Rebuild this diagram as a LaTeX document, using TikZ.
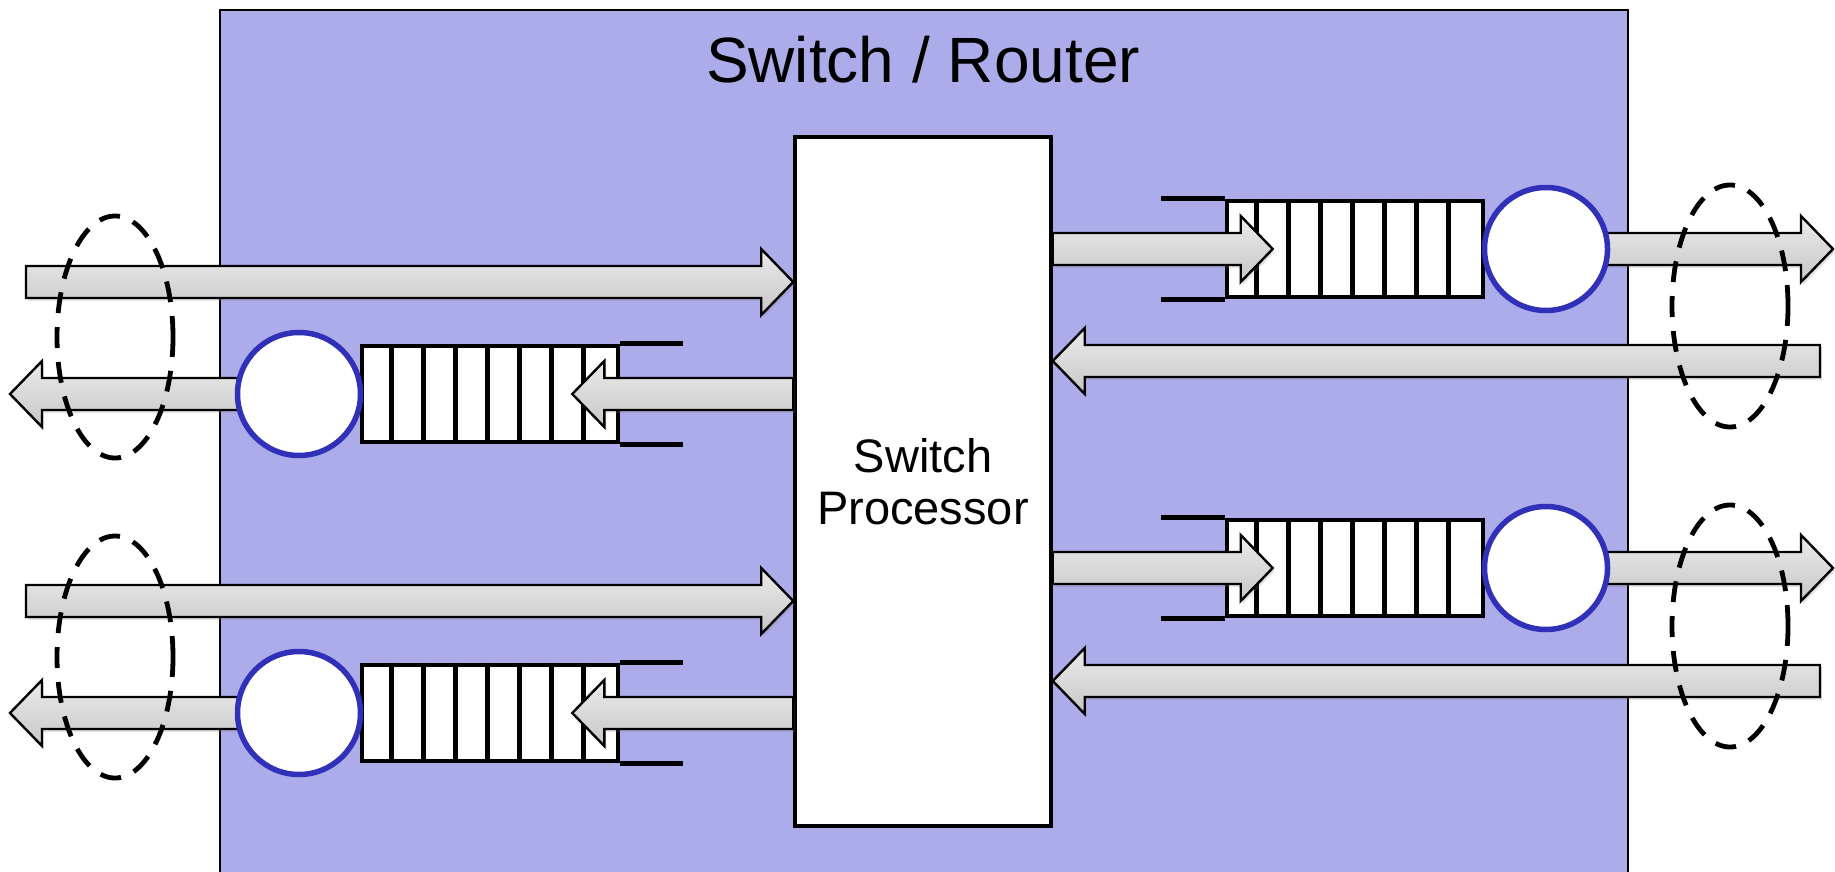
\documentclass[tikz,border=0pt]{standalone}
\usepackage{fontspec}
\setmainfont{Liberation Sans}
\usetikzlibrary{calc,shadows,shapes.geometric}
\definecolor{routerbg}{RGB}{172,172,235}
\definecolor{srvblue}{RGB}{48,48,184}
\tikzset{
  routerbox/.style={draw=black, line width=2pt, fill=routerbg, inner sep=0pt},
  procbox/.style={draw=black, line width=3.5pt, fill=white, inner sep=0pt,
    minimum width=256pt, minimum height=689pt, align=center,
    font=\fontsize{47}{52}\selectfont},
  server/.style={circle, draw=srvblue, line width=5.5pt, fill=white,
    minimum size=123pt, inner sep=0pt},
  queuebox/.style={draw=black, line width=4.6pt, fill=white,
    minimum width=256pt, minimum height=96pt, inner sep=0pt},
  qline/.style={draw=black, line width=4.6pt},
  barrow/.style={draw=black, line width=2.4pt, line join=miter,
    top color=black!8, bottom color=black!22,
    drop shadow={opacity=0.22, shadow xshift=2pt, shadow yshift=-3pt}},
  portring/.style={ellipse, draw=black, line width=4.8pt,
    dash pattern=on 21pt off 14pt, minimum width=116pt,
    minimum height=242pt, inner sep=0pt},
}
% block arrow from #1 to tip #2 (horizontal)
\newcommand{\blockarrow}[2]{%
  \path[barrow] let \p1=(#1), \p2=(#2), \p3=($(#2)!32pt!(#1)$) in
    (\x1,\y1-16pt) -- (\x3,\y1-16pt) -- (\x3,\y1-33pt)
    -- (\x2,\y1) -- (\x3,\y1+33pt) -- (\x3,\y1+16pt)
    -- (\x1,\y1+16pt) -- cycle;}
% queue cell dividers
\newcommand{\queuecells}[1]{%
  \foreach \i in {1,...,7} {
    \draw[qline] ($(#1.north west)+(32*\i,0)$) -- ($(#1.south west)+(32*\i,0)$);
  }}
\begin{document}
\begin{tikzpicture}[x=1pt, y=-1pt]
\clip (0,0) rectangle (1835,872);
\fill[white] (0,0) rectangle (1835,872);

% router enclosure
\node[routerbox, anchor=north west, minimum width=1408pt, minimum height=900pt] (router) at (219,9) {};
\node[anchor=base, font=\fontsize{64}{77}\selectfont] (title) at (923,83) {Switch / Router};

% processor
\node[procbox] (proc) at (923,481.5) {Switch\\Processor};

% queues
\node[queuebox] (q1) at (490,394) {};
\node[queuebox] (q2) at (490,713) {};
\node[queuebox] (q3) at (1355,249) {};
\node[queuebox] (q4) at (1355,568) {};
\queuecells{q1}\queuecells{q2}\queuecells{q3}\queuecells{q4}
\draw[qline] (q1.north east) -- ++(63,0);
\draw[qline] (q1.south east) -- ++(63,0);
\draw[qline] (q2.north east) -- ++(63,0);
\draw[qline] (q2.south east) -- ++(63,0);
\draw[qline] (q3.north west) -- ++(-64,0);
\draw[qline] (q3.south west) -- ++(-64,0);
\draw[qline] (q4.north west) -- ++(-64,0);
\draw[qline] (q4.south west) -- ++(-64,0);

% coordinates
\coordinate (inL1) at (26,282);
\coordinate (inL2) at (26,601);
\coordinate (tipL1) at (10,394);
\coordinate (tipL2) at (10,713);
\coordinate (inR1) at (1820,361);
\coordinate (inR2) at (1820,681);
\coordinate (tipR1) at (1833,249);
\coordinate (tipR2) at (1833,568);
\coordinate (qt1) at ($(q1.east)+(-48,0)$);
\coordinate (qt2) at ($(q2.east)+(-48,0)$);
\coordinate (qt3) at ($(q3.west)+(48,0)$);
\coordinate (qt4) at ($(q4.west)+(48,0)$);

% servers' positions
\coordinate (s1) at (299,394);
\coordinate (s2) at (299,713);
\coordinate (s3) at (1546,249);
\coordinate (s4) at (1546,568);

% arrows beneath servers
\blockarrow{s1}{tipL1}
\blockarrow{s2}{tipL2}
\blockarrow{s3}{tipR1}
\blockarrow{s4}{tipR2}

% servers
\node[server] (c1) at (s1) {};
\node[server] (c2) at (s2) {};
\node[server] (c3) at (s3) {};
\node[server] (c4) at (s4) {};

% input arrows to processor
\blockarrow{inL1}{proc.west |- inL1}
\blockarrow{inL2}{proc.west |- inL2}
\blockarrow{inR1}{proc.east |- inR1}
\blockarrow{inR2}{proc.east |- inR2}

% processor to queues
\blockarrow{proc.west |- qt1}{qt1}
\blockarrow{proc.west |- qt2}{qt2}
\blockarrow{proc.east |- qt3}{qt3}
\blockarrow{proc.east |- qt4}{qt4}

% port rings
\node[portring] (p1) at (115,337) {};
\node[portring] (p2) at (115,657) {};
\node[portring] (p3) at (1730,306) {};
\node[portring] (p4) at (1730,626) {};
\end{tikzpicture}
\end{document}
